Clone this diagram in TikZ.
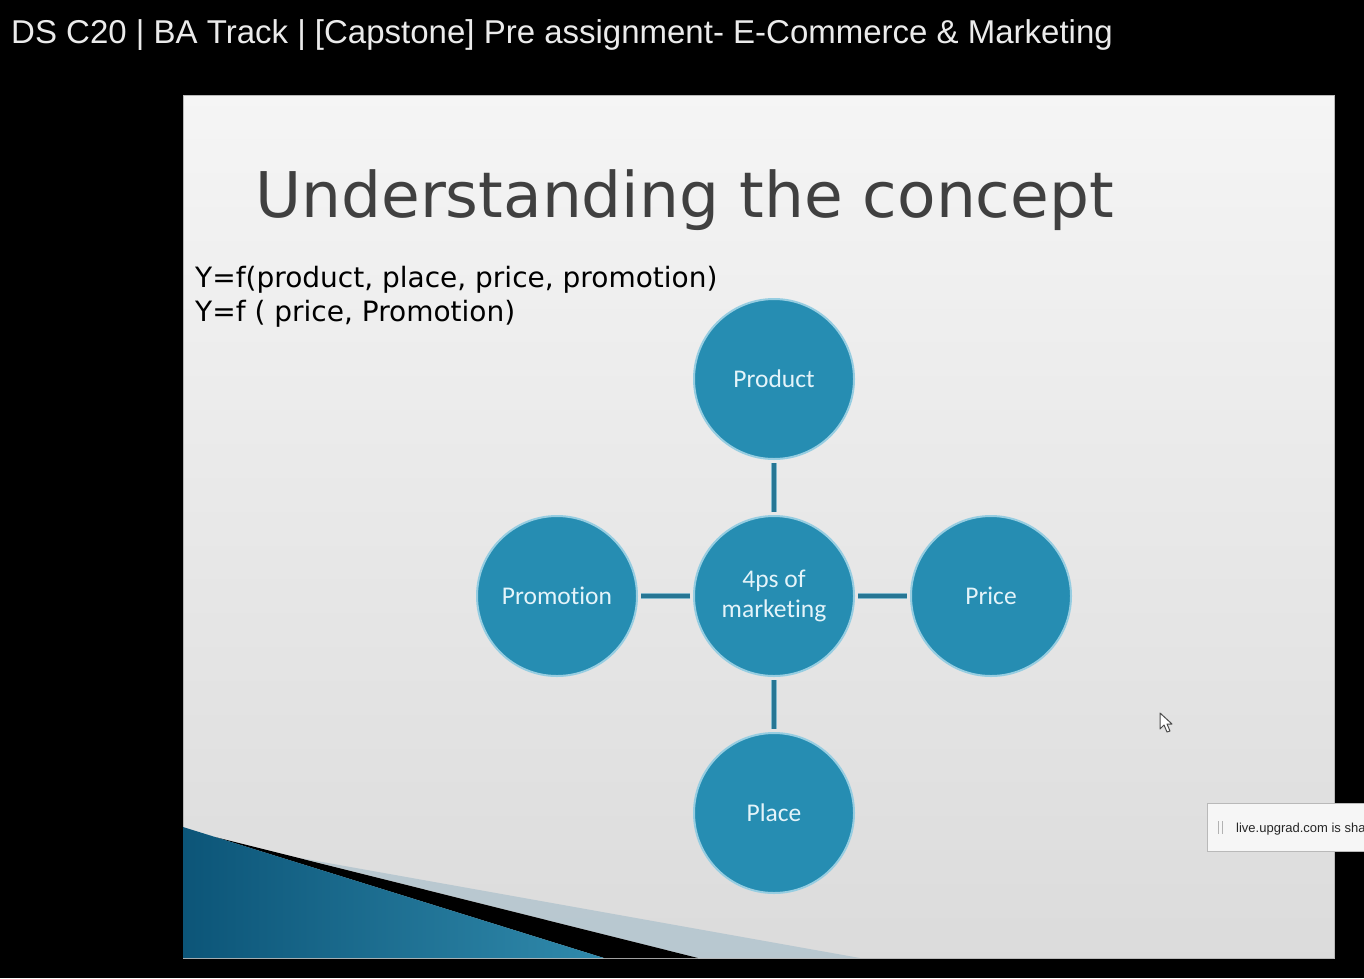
\documentclass[tikz,border=0pt]{standalone}
\usepackage{fontspec}
\setmainfont{Liberation Sans}
\newfontfamily\slidefont{DejaVu Sans}
\newfontfamily\smartfont[Ligatures=NoCommon]{Carlito}
\usetikzlibrary{positioning}

\definecolor{ballblue}{RGB}{38,141,178}
\definecolor{ballrim}{RGB}{150,205,225}
\definecolor{balltext}{RGB}{228,244,250}
\definecolor{linkblue}{RGB}{38,118,148}
\definecolor{linkedge}{RGB}{130,185,205}
\definecolor{titlegray}{RGB}{64,64,64}
\definecolor{wedgedark}{RGB}{12,85,120}
\definecolor{wedgelight}{RGB}{48,138,172}
\definecolor{stripegray}{RGB}{176,195,205}

\begin{document}
\begin{tikzpicture}[x=1pt, y=-1pt,
	ball/.style={circle, minimum size=160pt, inner sep=0pt, fill=ballblue,
		draw=ballrim, line width=2pt, text=balltext, align=center,
		font=\smartfont\fontsize{25.5}{30}\selectfont},
	link/.style={draw=linkedge, double=linkblue, double distance=3.5pt,
		line width=1pt, shorten <=3pt, shorten >=3pt},
	eq/.style={anchor=base west, inner sep=0pt, text=black,
		font=\slidefont\fontsize{28}{34}\selectfont},
	toast/.style={draw=gray!55, fill=gray!7, inner sep=0pt},
	]
	\useasboundingbox (0,0) rectangle (1364,978);
	\fill[black] (0,0) rectangle (1364,978);

	% Video title
	\node[anchor=base west, inner sep=0pt, text=white!92!black,
		font=\fontsize{33}{38}\selectfont] (video) at (11,43)
	{DS C20 | BA Track | [Capstone] Pre assignment- E-Commerce \& Marketing};

	% Slide
	\shade[top color=white!96!black, bottom color=white!86!black]
	(183,95) rectangle (1334,958);
	\draw[gray!55, line width=1pt] (183,95) rectangle (1334,958);

	% Corner decoration
	\begin{scope}
		\clip (183,95) rectangle (1334,958);
		\fill[stripegray, opacity=.8] (300,858) -- (860,958) -- (698,958) -- cycle;
		\fill[black] (215,837) -- (698,958) -- (604,958) -- cycle;
		\shade[left color=wedgedark, right color=wedgelight]
		(183,827) -- (604,958) -- (183,958) -- cycle;
	\end{scope}

	% Slide title
	\node[anchor=base west, inner sep=0pt, text=titlegray,
		font=\slidefont\fontsize{63}{70}\selectfont] (title) at (255,217)
	{Understanding the concept};

	% Functions
	\node[eq] (eqa) at (195,287) {Y=f(product, place, price, promotion)};
	\node[eq] (eqb) at (195,321) {Y=f ( price, Promotion)};

	% Hub and the four Ps
	\node[ball] (hub) at (774,596) {4ps of\\marketing};
	\node[ball, above=55pt of hub] (product) {Product};
	\node[ball, right=55pt of hub] (price) {Price};
	\node[ball, below=55pt of hub] (place) {Place};
	\node[ball, left=55pt of hub] (promotion) {Promotion};

	% Links
	\draw[link] (hub) -- (product);
	\draw[link] (hub) -- (price);
	\draw[link] (hub) -- (place);
	\draw[link] (hub) -- (promotion);

	% Pointer
	\draw[fill=white, draw=gray!60!black, line width=1pt, line join=round]
	(1160,713) -- (1160,729) -- (1164,725) -- (1167,732) -- (1170,731)
	-- (1167,724) -- (1172,724) -- cycle;

	% Sharing notice
	\node[toast, anchor=north west, minimum width=170pt, minimum height=48pt]
	(toast) at (1207,803) {};
	\draw[gray!60, line width=1pt] (1218,821) -- (1218,834) (1222,821) -- (1222,834);
	\node[anchor=base west, inner sep=0pt, text=gray!30!black,
		font=\fontsize{13}{15}\selectfont] (toasttext) at (1236,832)
	{live.upgrad.com is sha};
\end{tikzpicture}
\end{document}
